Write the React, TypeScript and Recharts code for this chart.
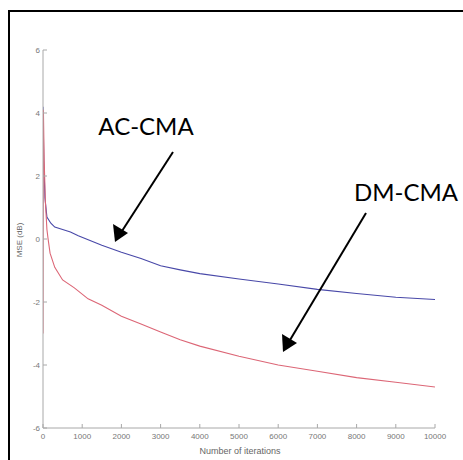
import { LineChart, Line, XAxis, YAxis } from "recharts";

const acIter = [0, 20, 50, 100, 200, 300, 500, 700, 900, 1200, 1500, 2000, 2500, 3000, 3500, 4000, 5000, 6000, 7000, 8000, 9000, 10000];
const acMse = [4.2, 2.5, 1.3, 0.7, 0.5, 0.38, 0.3, 0.22, 0.1, -0.05, -0.2, -0.42, -0.62, -0.85, -0.98, -1.1, -1.27, -1.43, -1.6, -1.73, -1.85, -1.92];

const dmIter = [0, 10, 30, 60, 100, 130, 180, 300, 500, 800, 1150, 1500, 2000, 2500, 3000, 3500, 4000, 5000, 6000, 7000, 8000, 9000, 10000];
const dmMse = [-3, 4.1, 2.5, 1.2, 0.3, 0, -0.45, -0.9, -1.3, -1.55, -1.9, -2.1, -2.45, -2.7, -2.95, -3.2, -3.4, -3.72, -4.0, -4.2, -4.4, -4.55, -4.7];

const xTicks = [0, 1000, 2000, 3000, 4000, 5000, 6000, 7000, 8000, 9000, 10000];
const yTicks = [-6, -4, -2, 0, 2, 4, 6];

const acData = acIter.map((n, i) => ({ n, v: acMse[i] }));
const dmData = dmIter.map((n, i) => ({ n, v: dmMse[i] }));

const axisColor = "#a8a8a8";
const tickFont = "'Liberation Sans', Arial, sans-serif";
const noteFont = "Lato, 'Open Sans', sans-serif";

function YTick(props: any) {
  const { x, y, payload } = props;
  return (
    <g>
      <line x1={x} y1={y} x2={x + 4} y2={y} stroke={axisColor} />
      <text x={x - 3} y={y + 3} textAnchor="end" fontSize={8} fill="#777" fontFamily={tickFont}>
        {payload.value}
      </text>
    </g>
  );
}

function XTick(props: any) {
  const { x, y, payload } = props;
  return (
    <g>
      <line x1={x} y1={y} x2={x} y2={y - 4} stroke={axisColor} />
      <text x={x} y={y + 11} textAnchor="middle" fontSize={8} fill="#777" fontFamily={tickFont}>
        {payload.value}
      </text>
    </g>
  );
}

export default function App() {
  return (
    <div style={{ position: "absolute", left: 0, top: 0, width: 463, height: 460, background: "#fff", overflow: "hidden" }}>
      <div
        style={{
          position: "absolute",
          left: 8,
          top: 10,
          width: 470,
          height: 470,
          borderTop: "2px solid #000",
          borderLeft: "2px solid #000",
        }}
      />
      <div style={{ position: "absolute", left: 0, top: 0 }}>
        <LineChart width={463} height={460} margin={{ top: 50, right: 28, left: 23, bottom: 2 }}>
          <XAxis
            dataKey="n"
            type="number"
            domain={[0, 10000]}
            ticks={xTicks}
            allowDataOverflow
            stroke={axisColor}
            tickLine={false}
            tickSize={0}
            tickMargin={0}
            height={30}
            tick={<XTick />}
            interval={0}
          />
          <YAxis
            type="number"
            domain={[-6, 6]}
            ticks={yTicks}
            allowDataOverflow
            stroke={axisColor}
            tickLine={false}
            tickSize={0}
            tickMargin={0}
            width={20}
            tick={<YTick />}
            interval={0}
          />
          <Line data={acData} dataKey="v" type="linear" stroke="#4848a8" strokeWidth={1.1} dot={false} isAnimationActive={false} />
          <Line data={dmData} dataKey="v" type="linear" stroke="#dc6676" strokeWidth={1.1} dot={false} isAnimationActive={false} />
        </LineChart>
      </div>
      <svg width={463} height={460} style={{ position: "absolute", left: 0, top: 0, pointerEvents: "none" }}>
        <text x={22} y={240} transform="rotate(-90 22 240)" textAnchor="middle" fontSize={8} fill="#666" fontFamily={tickFont}>
          MSE (dB)
        </text>
        <text x={240} y={454} textAnchor="middle" fontSize={9} fill="#666" fontFamily={tickFont}>
          Number of iterations
        </text>
        <text x={146} y={135} textAnchor="middle" fontSize={24} fill="#000" fontFamily={noteFont}>
          AC-CMA
        </text>
        <text x={406} y={201} textAnchor="middle" fontSize={24} fill="#000" fontFamily={noteFont}>
          DM-CMA
        </text>
        <line x1={173} y1={152} x2={122} y2={231} stroke="#000" strokeWidth={2} />
        <polygon points="115,242 113,224 128,233" fill="#000" />
        <line x1={366} y1={213} x2={290} y2={340} stroke="#000" strokeWidth={2} />
        <polygon points="283,352 282,334 297,343" fill="#000" />
      </svg>
    </div>
  );
}
